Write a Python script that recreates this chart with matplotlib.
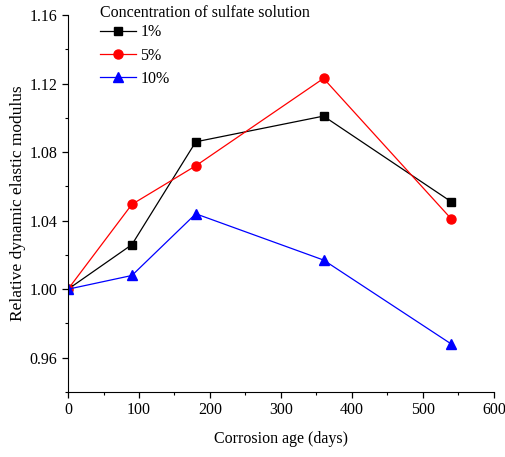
import matplotlib
matplotlib.use("Agg")
import matplotlib.pyplot as plt
from matplotlib.ticker import MultipleLocator

plt.rcParams['font.family'] = ['Liberation Serif', 'DejaVu Serif']

# data
days = [0, 90, 180, 360, 540]
c1 = [1.000, 1.026, 1.086, 1.101, 1.051]
c5 = [1.000, 1.0495, 1.072, 1.123, 1.041]
c10 = [1.000, 1.008, 1.044, 1.017, 0.968]
labels = ['1%', '5%', '10%']

fig = plt.figure(figsize=(5.05, 4.57), dpi=100)
ax = fig.add_axes([0.1347, 0.1422, 0.8433, 0.825])

ax.plot(days, c1, color='black', marker='s', markersize=5.5, linewidth=0.9, label=labels[0])
ax.plot(days, c5, color='red', marker='o', markersize=6.5, linewidth=0.9, label=labels[1])
ax.plot(days, c10, color='blue', marker='^', markersize=7, linewidth=0.9, label=labels[2])

ax.set_xlim(0, 600)
ax.set_ylim(0.94, 1.16)
ax.xaxis.set_major_locator(MultipleLocator(100))
ax.xaxis.set_minor_locator(MultipleLocator(50))
ax.yaxis.set_minor_locator(MultipleLocator(0.02))
ax.set_yticks([0.96, 1.00, 1.04, 1.08, 1.12, 1.16])
ax.set_yticklabels(['0.96', '1.00', '1.04', '1.08', '1.12', '1.16'])

ax.spines['top'].set_visible(False)
ax.spines['right'].set_visible(False)
ax.tick_params(which='major', direction='out', length=4, width=0.9, labelsize=11.5)
ax.tick_params(which='minor', direction='out', length=2.5, width=0.8)

ax.set_xlabel('Corrosion age (days)', fontsize=11.5, labelpad=9)
ax.set_ylabel('Relative dynamic elastic modulus', fontsize=12.5, labelpad=3)

leg = ax.legend(title='Concentration of sulfate solution', loc='upper left',
                bbox_to_anchor=(0.05, 1.055), frameon=False, fontsize=11.5,
                title_fontsize=11.5, handlelength=2.2, handletextpad=0.3,
                labelspacing=0.46, borderpad=0.2)
leg._legend_box.align = 'left'
leg._legend_box.sep = 2

fig.savefig('out.png', dpi=100)
